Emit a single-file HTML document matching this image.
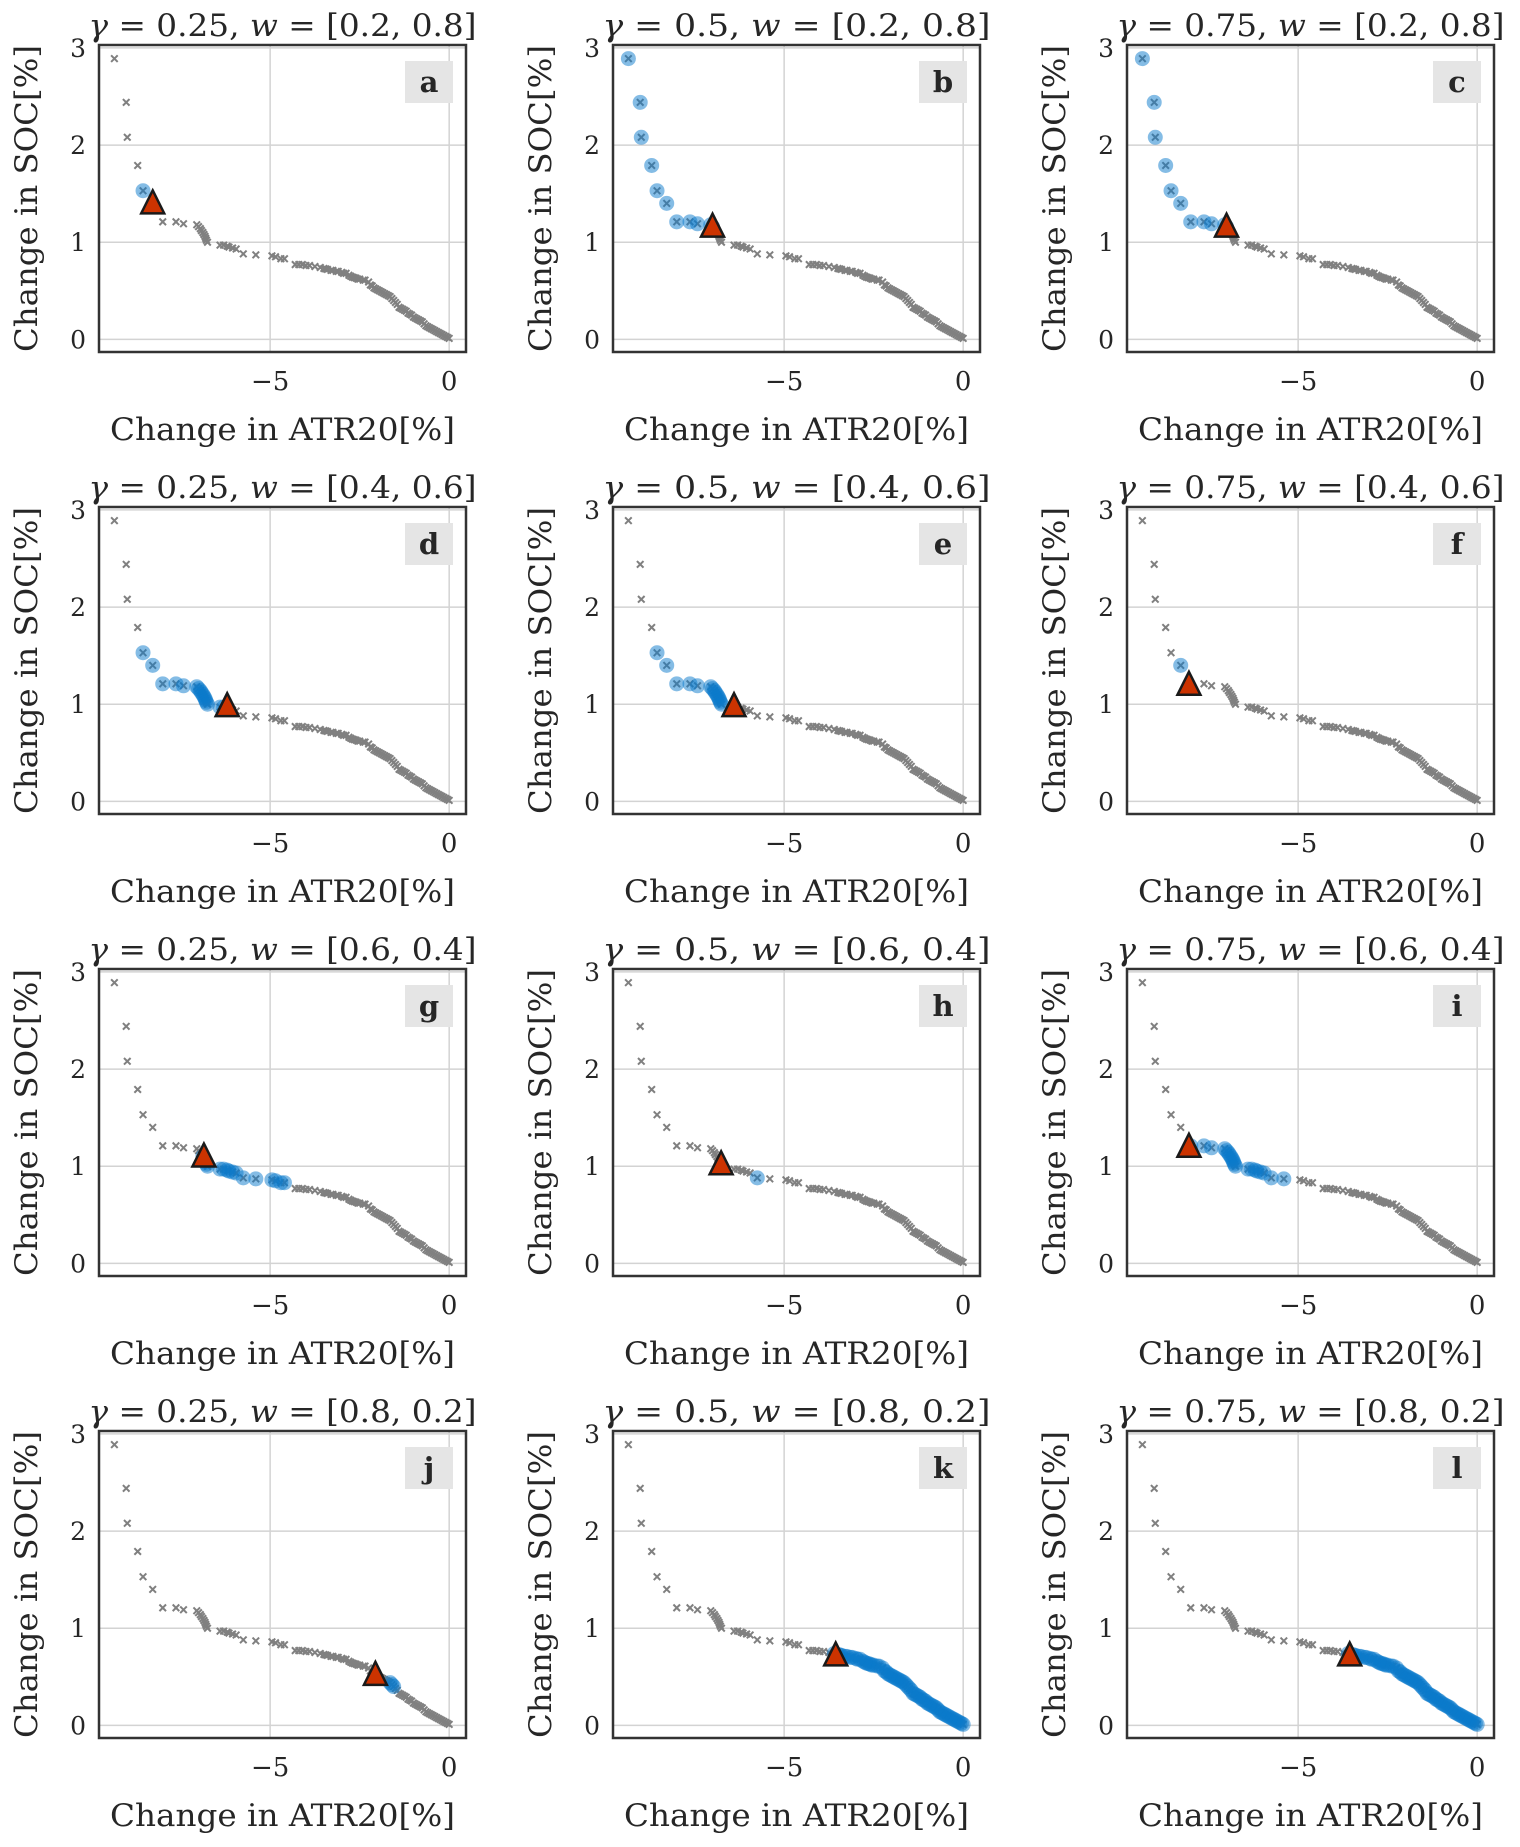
<!DOCTYPE html>
<html><head><meta charset="utf-8">
<style>
html,body{margin:0;padding:0;background:#fff;}
svg{display:block;}
text{font-family:"DejaVu Serif","Liberation Serif",serif;fill:#262626;}
</style></head>
<body>
<svg id="fig" width="1520" height="1847" viewBox="0 0 1520 1847" xmlns="http://www.w3.org/2000/svg"></svg>
<script>
// Shared Pareto front (x = change in ATR20 %, y = change in SOC %)
const frontX = [-9.35,-9.02,-8.99,-8.70,-8.55,-8.28,-8.0,-7.63,-7.42,-7.05,-7.0,-6.95,-6.92,-6.88,-6.85,-6.82,-6.8,-6.78,-6.75,-6.4,-6.3,-6.2,-6.15,-6.05,-5.95,-5.75,-5.4,-4.95,-4.85,-4.7,-4.6,-4.3,-4.2,-4.1,-4.0,-3.9,-3.75,-3.6,-3.5,-3.4,-3.3,-3.15,-3.0,-2.88,-2.8,-2.7,-2.6,-2.5,-2.35,-2.2,-2.1,-2.0,-1.9,-1.8,-1.7,-1.6,-1.5,-1.4,-1.3,-1.2,-1.1,-1.0,-0.9,-0.8,-0.7,-0.6,-0.5,-0.4,-0.3,-0.2,-0.1,0,-0.05,-0.15,-0.25,-0.35,-0.45,-0.55,-0.65,-0.75,-0.85,-0.95,-1.05,-1.15,-1.25,-1.35,-1.45,-1.55,-1.65,-1.75,-1.85,-1.95,-2.05,-2.15,-2.25,-2.4,-2.55,-2.65,-2.75,-2.95,-3.1,-3.25,-3.45];
const frontY = [2.89,2.44,2.08,1.79,1.53,1.40,1.21,1.21,1.19,1.18,1.16,1.14,1.12,1.10,1.08,1.06,1.04,1.02,1.0,0.97,0.97,0.96,0.95,0.94,0.93,0.88,0.87,0.86,0.85,0.83,0.83,0.77,0.77,0.77,0.76,0.76,0.75,0.74,0.73,0.72,0.71,0.70,0.69,0.68,0.66,0.64,0.63,0.62,0.61,0.56,0.53,0.51,0.49,0.47,0.45,0.42,0.38,0.33,0.31,0.29,0.26,0.23,0.21,0.19,0.16,0.13,0.11,0.09,0.07,0.05,0.03,0.01,0.02,0.04,0.06,0.08,0.10,0.12,0.14,0.18,0.20,0.22,0.25,0.27,0.30,0.32,0.36,0.40,0.44,0.46,0.48,0.50,0.52,0.55,0.59,0.61,0.62,0.635,0.65,0.68,0.70,0.71,0.725];
// Per-panel data
const panelLetters = ['a','b','c','d','e','f','g','h','i','j','k','l'];
const gammas = ['0.25','0.5','0.75','0.25','0.5','0.75','0.25','0.5','0.75','0.25','0.5','0.75'];
const weights = ['[0.2, 0.8]','[0.2, 0.8]','[0.2, 0.8]','[0.4, 0.6]','[0.4, 0.6]','[0.4, 0.6]','[0.6, 0.4]','[0.6, 0.4]','[0.6, 0.4]','[0.8, 0.2]','[0.8, 0.2]','[0.8, 0.2]'];
const blueLo = [-8.6,-9.4,-9.4,-8.6,-8.6,-8.3,-6.9,-5.8,-8.1,-1.65,-3.6,-3.6];
const blueHi = [-8.5,-7.0,-7.0,-6.2,-6.4,-8.2,-4.6,-5.7,-5.3,-1.55,0.01,0.01];
const triX = [-8.28,-7.0,-7.0,-6.2,-6.4,-8.05,-6.85,-6.76,-8.05,-2.06,-3.56,-3.56];
const triY = [1.40,1.16,1.16,0.98,0.98,1.20,1.10,1.02,1.20,0.52,0.72,0.72];
const xTicks = [-5, 0];
const yTicks = [0, 1, 2, 3];

const NS = 'http://www.w3.org/2000/svg';
const svg = document.getElementById('fig');
function mk(tag, attrs, parent){ const e=document.createElementNS(NS,tag); for(const k in attrs) e.setAttribute(k,attrs[k]); (parent||svg).appendChild(e); return e; }

const colLeft = [99, 613, 1127];
const rowTop = [45, 507, 969, 1431];
const W = 367, H = 307;
const xMin = -9.78, xMax = 0.47, yMin = -0.13, yMax = 3.03;

for (let p = 0; p < 12; p++) {
  const L = colLeft[p % 3], T = rowTop[Math.floor(p / 3)];
  const sx = v => L + (v - xMin) / (xMax - xMin) * W;
  const sy = v => T + H - (v - yMin) / (yMax - yMin) * H;
  const g = mk('g', {});
  
  
  mk('rect', {x:L, y:T, width:W, height:H, fill:'#fff'}, g);
  xTicks.forEach(t => {
    const l = mk('line', {x1:sx(t), x2:sx(t), y1:T, y2:T+H, stroke:'#d3d3d3', 'stroke-width':1.5}, g);
    
    
    const tx = mk('text', {x:sx(t), y:T + H + 38, 'text-anchor':'middle', 'font-size':26}, g);
    tx.textContent = t < 0 ? '\u2212' + Math.abs(t) : String(t);
    
    
  });
  yTicks.forEach(t => {
    const l = mk('line', {x1:L, x2:L+W, y1:sy(t), y2:sy(t), stroke:'#d3d3d3', 'stroke-width':1.5}, g);
    
    
    const tx = mk('text', {x:L-13, y:sy(t)+9, 'text-anchor':'end', 'font-size':25}, g);
    tx.textContent = String(t);
    
    
  });
  // gray crosses
  for (let i = 0; i < frontX.length; i++) {
    const cx = sx(frontX[i]), cy = sy(frontY[i]), s = 3.3;
    const cr = mk('path', {d:`M${cx-s},${cy-s}L${cx+s},${cy+s}M${cx-s},${cy+s}L${cx+s},${cy-s}`, stroke:'#808080', 'stroke-width':2, fill:'none'}, g);
    
    
  }
  // blue selected points (over crosses)
  for (let i = 0; i < frontX.length; i++) {
    if (frontX[i] >= blueLo[p] && frontX[i] <= blueHi[p]) {
      const c = mk('circle', {cx:sx(frontX[i]), cy:sy(frontY[i]), r:7.5, fill:'#0a7acb', 'fill-opacity':0.5}, g);
      
      
    }
  }
  const tx0 = sx(triX[p]), ty0 = sy(triY[p]);
  const tri = mk('path', {d:`M${tx0},${ty0-13}L${tx0+11.5},${ty0+10}L${tx0-11.5},${ty0+10}Z`, fill:'#cc3300', stroke:'#1a1a1a', 'stroke-width':2.5}, g);
  
  
  mk('rect', {x:L, y:T, width:W, height:H, fill:'none', stroke:'#333', 'stroke-width':2.5}, g);
  const bx = L + W - 61, by = T + 16;
  const br = mk('rect', {x:bx, y:by, width:48, height:42, fill:'#e5e5e5'}, g);
  
  
  const bt = mk('text', {x:bx+24, y:by+31, 'text-anchor':'middle', 'font-size':29, 'font-weight':'bold'}, g);
  bt.textContent = panelLetters[p];
  
  
  const tt = mk('text', {x:L+W/2, y:T-9, 'text-anchor':'middle', 'font-size':31, textLength:388, lengthAdjust:'spacingAndGlyphs'}, g);
  tt.innerHTML = '<tspan font-style="italic">γ</tspan> = ' + gammas[p] + ', <tspan font-style="italic">w</tspan> = ' + weights[p];
  
  
  const xl = mk('text', {x:L+W/2, y:T+H+88, 'text-anchor':'middle', 'font-size':31, textLength:345, lengthAdjust:'spacingAndGlyphs'}, g);
  xl.textContent = 'Change in ATR20[%]';
  
  
  const yx = L - 62, yy = T + H/2;
  const yl = mk('text', {x:yx, y:yy, 'text-anchor':'middle', 'font-size':31, textLength:307, lengthAdjust:'spacingAndGlyphs', transform:`rotate(-90 ${yx} ${yy})`}, g);
  yl.textContent = 'Change in SOC[%]';
  
  
}
</script>
</body></html>
